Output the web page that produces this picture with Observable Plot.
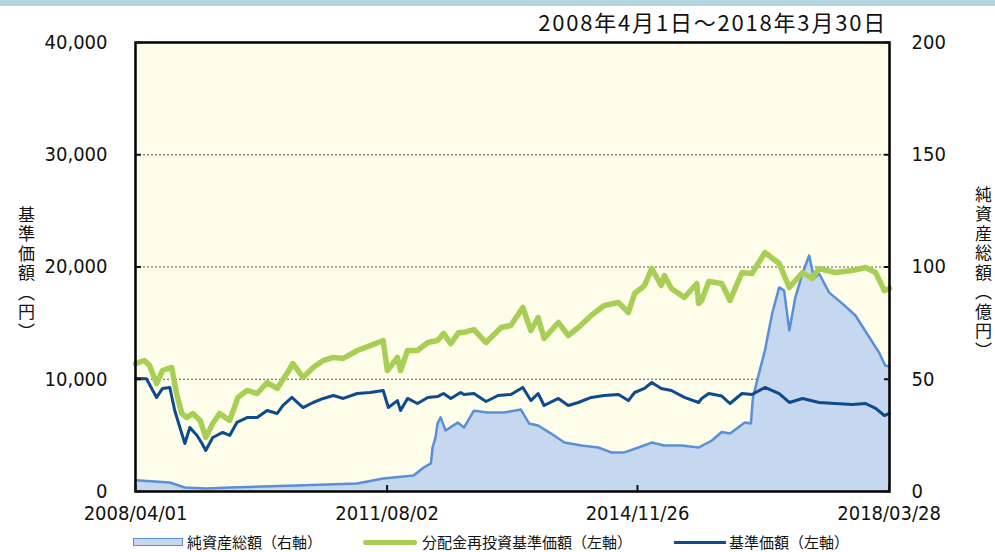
<!DOCTYPE html>
<html><head><meta charset="utf-8">
<script src="https://cdn.jsdelivr.net/npm/d3@7"></script>
<script src="https://cdn.jsdelivr.net/npm/@observablehq/plot@0.6"></script>
<style>
body{margin:0;background:#fff;}
#wrap{position:relative;width:995px;height:552px;overflow:hidden;font-family:"Noto Sans CJK JP",sans-serif;color:#111;}
#band{position:absolute;left:0;top:0;width:995px;height:6px;background:#b3d6de;}
#title{position:absolute;right:108px;top:9px;font-size:22px;letter-spacing:1.8px;line-height:24px;white-space:nowrap;}
.vlab{position:absolute;writing-mode:vertical-rl;font-size:17px;line-height:17px;letter-spacing:2.5px;}
#chart{position:absolute;left:0;top:0;}
#legend{position:absolute;left:133px;top:534px;display:flex;align-items:center;font-size:15px;line-height:16px;white-space:nowrap;}
#legend .sw{display:inline-block;}
</style></head>
<body>
<div id="wrap">
  <div id="band"></div>
  <div id="chart"></div>
  <div id="title">2008年4月1日～2018年3月30日</div>
  <div class="vlab" style="left:18px;top:206px;">基準価額（円）</div>
  <div class="vlab" style="left:975px;top:186px;">純資産総額（億円）</div>
  <div id="legend">
    <span class="sw" style="width:48px;height:6px;border:1.5px solid #5a8fd6;background:#c6d8ef;margin-right:4px;"></span><span>純資産総額（右軸）</span>
    <span class="sw" style="width:54px;height:5px;background:#a8cf55;border-radius:2px;margin-left:41px;margin-right:5px;"></span><span>分配金再投資基準価額（左軸）</span>
    <span class="sw" style="width:52px;height:3px;background:#0d4a8e;margin-left:42px;margin-right:3px;"></span><span>基準価額（左軸）</span>
  </div>
</div>
<script>
// 基準価額 (円, left axis)
const navDates = ["2008-04-01","2008-04-06","2008-05-24","2008-07-12","2008-08-10","2008-09-14","2008-10-08","2008-11-02","2008-11-26","2008-12-20","2009-01-24","2009-02-17","2009-03-07","2009-04-10","2009-05-28","2009-07-01","2009-08-05","2009-09-23","2009-11-11","2009-12-29","2010-02-16","2010-03-15","2010-04-28","2010-06-21","2010-08-09","2010-09-27","2010-11-15","2011-01-02","2011-03-10","2011-05-12","2011-07-14","2011-08-08","2011-09-21","2011-10-06","2011-11-09","2011-12-27","2012-02-15","2012-04-02","2012-05-01","2012-06-05","2012-07-23","2012-08-08","2012-09-25","2012-11-23","2013-01-20","2013-03-23","2013-05-20","2013-06-28","2013-08-02","2013-08-31","2013-11-08","2013-12-26","2014-02-13","2014-04-16","2014-06-18","2014-08-26","2014-10-13","2014-11-12","2014-12-30","2015-02-03","2015-03-21","2015-05-09","2015-07-11","2015-09-18","2015-10-03","2015-11-06","2016-01-08","2016-02-17","2016-04-15","2016-06-02","2016-08-04","2016-10-12","2016-11-30","2017-02-02","2017-04-23","2017-07-10","2017-10-01","2017-12-04","2018-01-22","2018-03-05","2018-03-30"];
const navValues = [10050,10070,10050,8380,9180,9270,7220,5700,4280,5700,4990,4280,3650,4810,5260,4990,6150,6590,6590,7220,6950,7660,8380,7480,7930,8290,8550,8290,8730,8820,9000,7480,8100,7220,8290,7840,8380,8460,8730,8290,8820,8640,8730,8020,8550,8640,9270,8100,8730,7660,8290,7660,7930,8380,8550,8640,8100,8820,9180,9710,9180,9000,8380,7930,8290,8730,8500,7840,8730,8640,9270,8730,7930,8290,7930,7840,7750,7840,7400,6770,6950];

// 分配金再投資基準価額 (円, left axis)
const reinvDates = ["2008-04-01","2008-05-14","2008-06-08","2008-07-12","2008-08-10","2008-09-23","2008-10-17","2008-11-11","2008-12-05","2009-01-04","2009-02-08","2009-03-07","2009-04-10","2009-05-13","2009-07-01","2009-08-10","2009-09-23","2009-11-11","2009-12-29","2010-02-16","2010-04-04","2010-05-03","2010-06-21","2010-08-09","2010-09-27","2010-11-15","2011-01-02","2011-03-10","2011-05-12","2011-07-14","2011-08-03","2011-09-21","2011-10-06","2011-11-09","2011-12-27","2012-02-15","2012-04-02","2012-05-01","2012-06-05","2012-07-14","2012-08-08","2012-09-25","2012-11-23","2013-02-04","2013-03-23","2013-05-20","2013-06-28","2013-08-02","2013-08-31","2013-11-08","2013-12-26","2014-02-13","2014-04-16","2014-06-18","2014-08-26","2014-10-13","2014-11-12","2014-12-30","2015-02-03","2015-03-21","2015-04-05","2015-05-09","2015-07-11","2015-09-09","2015-09-18","2015-10-03","2015-11-06","2016-01-08","2016-02-17","2016-04-15","2016-06-02","2016-08-04","2016-10-12","2016-11-30","2017-02-02","2017-03-20","2017-04-23","2017-07-10","2017-10-01","2017-12-04","2018-01-22","2018-03-05","2018-03-30"];
const reinvValues = [11400,11670,11230,9620,10780,11050,8730,6950,6590,6950,6330,4810,6060,6950,6330,8380,9000,8730,9710,9180,10510,11400,10160,11050,11670,11940,11850,12560,13000,13450,10780,11940,10780,12560,12560,13270,13450,14080,13180,14170,14170,14430,13270,14610,14790,16390,14340,15500,13630,15060,13900,14610,15680,16570,16840,15950,17640,18350,19870,18350,19240,18080,17280,18530,16750,17020,18700,18530,17020,19510,19420,21290,20310,18170,19510,18980,19870,19510,19690,19960,19510,17900,18080];

// 純資産総額 (億円, right axis)
const assetDates = ["2008-04-01","2008-09-14","2008-11-26","2009-03-10","2009-07-01","2010-05-22","2011-03-10","2011-07-14","2011-12-08","2012-01-26","2012-03-01","2012-03-09","2012-03-23","2012-04-02","2012-04-17","2012-05-11","2012-07-09","2012-08-08","2012-09-25","2012-12-02","2013-02-18","2013-05-11","2013-06-19","2013-08-02","2013-10-04","2013-12-07","2014-02-28","2014-05-20","2014-07-22","2014-09-24","2014-12-01","2015-02-03","2015-04-05","2015-06-27","2015-09-18","2015-11-21","2016-01-08","2016-02-17","2016-04-29","2016-05-28","2016-06-07","2016-07-06","2016-08-04","2016-09-08","2016-10-12","2016-11-05","2016-11-30","2016-12-29","2017-02-02","2017-03-06","2017-03-30","2017-04-23","2017-06-11","2017-08-14","2017-10-16","2017-12-23","2018-02-10","2018-03-09","2018-03-30"];
const assetValues = [5.0,4.0,1.8,1.3,1.8,2.7,3.6,5.8,7.1,10.7,12.5,19.6,24,30.3,33,27.2,30.7,28.5,36,35.2,35.2,36.5,30.3,29.4,25.8,21.8,20.5,19.6,17.4,17.4,19.6,21.8,20.5,20.5,19.6,22.7,26.5,25.8,30.7,30.3,41.9,52.6,62.8,79.3,90.9,89.5,71.7,86.4,97.1,105.1,94.9,97.1,88.6,83.7,78.4,68.6,61.5,56.1,55.7];

// axes
const leftTicks = [0,10000,20000,30000,40000];
const rightScale = 200; // 40,000 円 ⇔ 200 億円
const xTickLabels = ["2008-04-01","2011-08-02","2014-11-26","2018-03-28"];

const parse = d3.utcParse("%Y-%m-%d");
const navRows = navDates.map((d,i)=>({date:parse(d), value:navValues[i]}));
const reinvRows = reinvDates.map((d,i)=>({date:parse(d), value:reinvValues[i]}));
const assetRows = assetDates.map((d,i)=>({date:parse(d), value:assetValues[i]}));
const xTicks = xTickLabels.map(parse);

const chart = Plot.plot({
  width: 995, height: 552,
  marginLeft: 135, marginRight: 106, marginTop: 42, marginBottom: 61,
  style: {fontFamily: '"DejaVu Sans Condensed","DejaVu Sans",sans-serif', fontSize: "20px", fontStretch: "condensed", color: "#111", background: "transparent", overflow: "visible"},
  x: {type: "utc", domain: [parse("2008-04-01"), parse("2018-03-30")]},
  y: {domain: [0, 40000]},
  marks: [
    Plot.frame({fill: "#fdfde9"}),
    Plot.gridY(leftTicks.slice(1, -1), {stroke: "#555", strokeOpacity: 1, strokeDasharray: "2,2", strokeWidth: 1}),
    Plot.areaY(assetRows, {x: "date", y: d => d.value * rightScale, fill: "#c6d8ef"}),
    Plot.lineY(assetRows, {x: "date", y: d => d.value * rightScale, stroke: "#5a8fd6", strokeWidth: 2.5}),
    Plot.lineY(reinvRows, {x: "date", y: "value", stroke: "#a8cf55", strokeWidth: 5.5}),
    Plot.lineY(navRows, {x: "date", y: "value", stroke: "#0d4a8e", strokeWidth: 3}),
    Plot.frame({stroke: "#000", strokeWidth: 2.5}),
    Plot.axisY(leftTicks, {anchor: "left", tickSize: -6, tickPadding: 34, strokeWidth: 2, tickFormat: d3.format(","), label: null}),
    Plot.axisY(leftTicks, {anchor: "right", tickSize: -6, tickPadding: 28, strokeWidth: 2, tickFormat: d => d / rightScale, label: null}),
    Plot.axisX(xTicks, {anchor: "bottom", tickSize: -6, tickPadding: 20, strokeWidth: 2, tickFormat: d3.utcFormat("%Y/%m/%d"), label: null})
  ]
});
document.getElementById("chart").appendChild(chart);
</script>
</body></html>
